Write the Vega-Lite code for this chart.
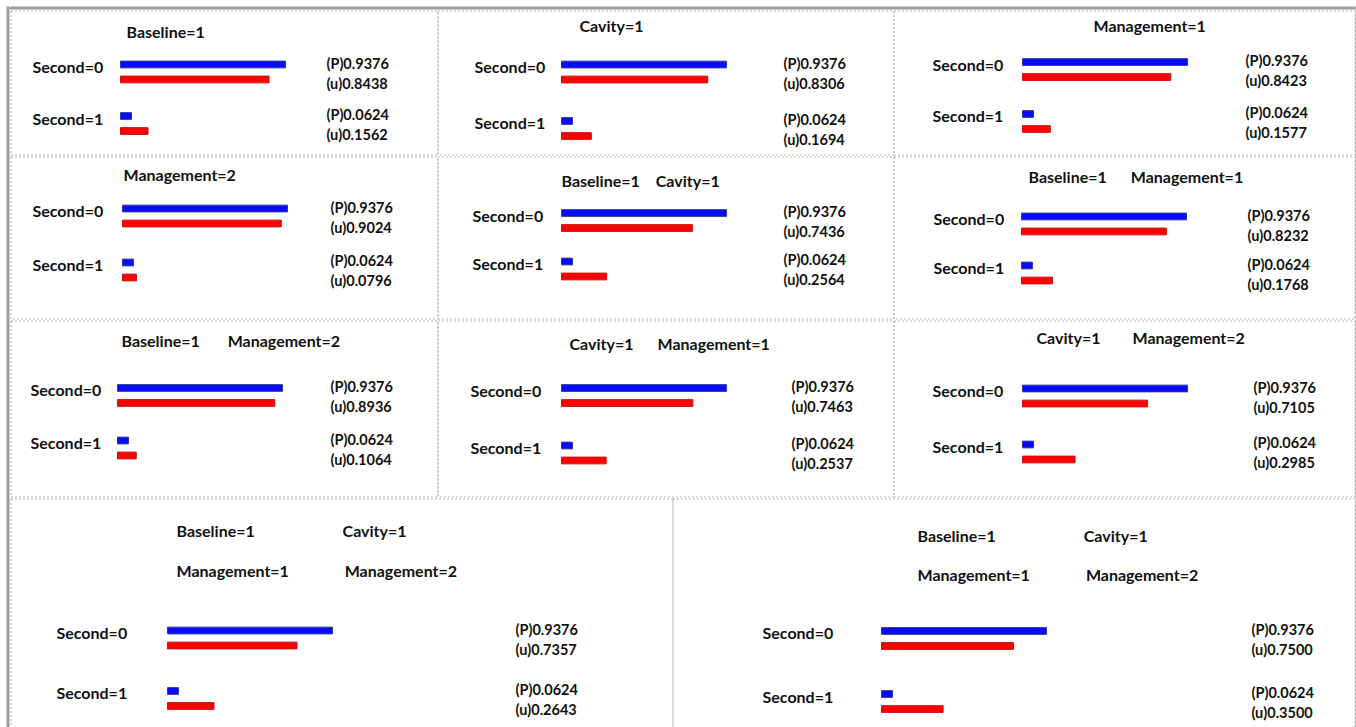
{
"$schema": "https://vega.github.io/schema/vega-lite/v6.json",
"background": "white",
"padding": {"left": 6.5, "top": 6.5, "right": 0, "bottom": 0},
"spacing": 0,
"config": {
  "view": {"stroke": "#b5b5b5", "strokeDash": [2, 2], "strokeWidth": 1},
  "font": "Lato",
  "title": {"font": "Lato", "fontSize": 16, "fontWeight": "bold", "color": "#111111", "anchor": "start", "frame": "group", "baseline": "middle"},
  "text": {"font": "Lato", "fontWeight": "bold", "color": "#111111", "align": "left", "baseline": "middle"}
},
"hconcat": [
  {"width": 1, "height": 740, "view": {"stroke": "#9c9c9c", "strokeWidth": 2, "strokeDash": [10, 0]}, "data": {"values": []}, "mark": {"type": "rule", "opacity": 0}, "encoding": {}},
  {"vconcat": [
    {"width": 1344, "height": 1, "view": {"stroke": "#9c9c9c", "strokeWidth": 2, "strokeDash": [10, 0]}, "data": {"values": []}, "mark": {"type": "rule", "opacity": 0}, "encoding": {}},
    {"hconcat": [
      {"width": 427, "height": 144,
       "title": {"text": "Baseline=1", "dx": 116, "offset": -30},
       "data": {"values": [
         {"second": "0", "measure": "P", "value": 0.9376, "txt": "(P)0.9376", "slabel": "Second=0"},
         {"second": "0", "measure": "u", "value": 0.8438, "txt": "(u)0.8438", "slabel": "Second=0"},
         {"second": "1", "measure": "P", "value": 0.0624, "txt": "(P)0.0624", "slabel": "Second=1"},
         {"second": "1", "measure": "u", "value": 0.1562, "txt": "(u)0.1562", "slabel": "Second=1"}]},
       "resolve": {"scale": {"yOffset": "independent"}},
       "encoding": {"y": {"field": "second", "type": "nominal", "axis": null, "scale": {"domain": ["0", "1"], "range": [46.5, 128], "paddingInner": 0.4175, "paddingOuter": 0}}},
       "layer": [
         {"mark": {"type": "bar", "strokeWidth": 1},
          "encoding": {
            "x": {"field": "value", "type": "quantitative", "axis": null, "scale": {"domain": [-0.625, 1.801], "nice": false, "zero": false}},
            "yOffset": {"field": "measure", "type": "nominal", "scale": {"domain": ["P", "u"], "paddingInner": 0.55, "paddingOuter": 0.275}},
            "color": {"field": "measure", "type": "nominal", "legend": null, "scale": {"domain": ["P", "u"], "range": ["#0a0aff", "#ff0000"]}},
            "stroke": {"field": "measure", "type": "nominal", "legend": null, "scale": {"domain": ["P", "u"], "range": ["#2a3a9e", "#cc1010"]}}}},
         {"mark": {"type": "text", "fontSize": 14.5},
          "encoding": {
            "x": {"datum": 1.170, "type": "quantitative", "scale": {"domain": [-0.625, 1.801], "nice": false, "zero": false}},
            "yOffset": {"field": "measure", "type": "nominal", "scale": {"domain": ["P", "u"], "range": [7.5, 27.5], "paddingOuter": 0}},
            "text": {"field": "txt"}}},
         {"transform": [{"filter": "datum.measure === 'P'"}],
          "mark": {"type": "text", "fontSize": 16, "dy": -4},
          "encoding": {
            "x": {"datum": -0.5, "type": "quantitative", "scale": {"domain": [-0.625, 1.801], "nice": false, "zero": false}},
            "text": {"field": "slabel"}}}]},
      {"width": 456, "height": 144,
       "title": {"text": "Cavity=1", "dx": 142, "offset": -24},
       "data": {"values": [
         {"second": "0", "measure": "P", "value": 0.9376, "txt": "(P)0.9376", "slabel": "Second=0"},
         {"second": "0", "measure": "u", "value": 0.8306, "txt": "(u)0.8306", "slabel": "Second=0"},
         {"second": "1", "measure": "P", "value": 0.0624, "txt": "(P)0.0624", "slabel": "Second=1"},
         {"second": "1", "measure": "u", "value": 0.1694, "txt": "(u)0.1694", "slabel": "Second=1"}]},
       "resolve": {"scale": {"yOffset": "independent"}},
       "encoding": {"y": {"field": "second", "type": "nominal", "axis": null, "scale": {"domain": ["0", "1"], "range": [46.5, 133], "paddingInner": 0.469, "paddingOuter": 0}}},
       "layer": [
         {"mark": {"type": "bar", "strokeWidth": 1},
          "encoding": {
            "x": {"field": "value", "type": "quantitative", "axis": null, "scale": {"domain": [-0.7045, 1.886], "nice": false, "zero": false}},
            "yOffset": {"field": "measure", "type": "nominal", "scale": {"domain": ["P", "u"], "paddingInner": 0.55, "paddingOuter": 0.275}},
            "color": {"field": "measure", "type": "nominal", "legend": null, "scale": {"domain": ["P", "u"], "range": ["#0a0aff", "#ff0000"]}},
            "stroke": {"field": "measure", "type": "nominal", "legend": null, "scale": {"domain": ["P", "u"], "range": ["#2a3a9e", "#cc1010"]}}}},
         {"mark": {"type": "text", "fontSize": 14.5},
          "encoding": {
            "x": {"datum": 1.261, "type": "quantitative", "scale": {"domain": [-0.7045, 1.886], "nice": false, "zero": false}},
            "yOffset": {"field": "measure", "type": "nominal", "scale": {"domain": ["P", "u"], "range": [7.5, 27.5], "paddingOuter": 0}},
            "text": {"field": "txt"}}},
         {"transform": [{"filter": "datum.measure === 'P'"}],
          "mark": {"type": "text", "fontSize": 16, "dy": -4},
          "encoding": {
            "x": {"datum": -0.494, "type": "quantitative", "scale": {"domain": [-0.7045, 1.886], "nice": false, "zero": false}},
            "text": {"field": "slabel"}}}]},
      {"width": 461, "height": 144,
       "title": {"text": "Management=1", "dx": 200, "offset": -24},
       "data": {"values": [
         {"second": "0", "measure": "P", "value": 0.9376, "txt": "(P)0.9376", "slabel": "Second=0"},
         {"second": "0", "measure": "u", "value": 0.8423, "txt": "(u)0.8423", "slabel": "Second=0"},
         {"second": "1", "measure": "P", "value": 0.0624, "txt": "(P)0.0624", "slabel": "Second=1"},
         {"second": "1", "measure": "u", "value": 0.1577, "txt": "(u)0.1577", "slabel": "Second=1"}]},
       "resolve": {"scale": {"yOffset": "independent"}},
       "encoding": {"y": {"field": "second", "type": "nominal", "axis": null, "scale": {"domain": ["0", "1"], "range": [44, 126], "paddingInner": 0.423, "paddingOuter": 0}}},
       "layer": [
         {"mark": {"type": "bar", "strokeWidth": 1},
          "encoding": {
            "x": {"field": "value", "type": "quantitative", "axis": null, "scale": {"domain": [-0.733, 1.886], "nice": false, "zero": false}},
            "yOffset": {"field": "measure", "type": "nominal", "scale": {"domain": ["P", "u"], "paddingInner": 0.55, "paddingOuter": 0.275}},
            "color": {"field": "measure", "type": "nominal", "legend": null, "scale": {"domain": ["P", "u"], "range": ["#0a0aff", "#ff0000"]}},
            "stroke": {"field": "measure", "type": "nominal", "legend": null, "scale": {"domain": ["P", "u"], "range": ["#2a3a9e", "#cc1010"]}}}},
         {"mark": {"type": "text", "fontSize": 14.5},
          "encoding": {
            "x": {"datum": 1.267, "type": "quantitative", "scale": {"domain": [-0.733, 1.886], "nice": false, "zero": false}},
            "yOffset": {"field": "measure", "type": "nominal", "scale": {"domain": ["P", "u"], "range": [7.5, 27.5], "paddingOuter": 0}},
            "text": {"field": "txt"}}},
         {"transform": [{"filter": "datum.measure === 'P'"}],
          "mark": {"type": "text", "fontSize": 16, "dy": -4},
          "encoding": {
            "x": {"datum": -0.511, "type": "quantitative", "scale": {"domain": [-0.733, 1.886], "nice": false, "zero": false}},
            "text": {"field": "slabel"}}}]}
    ], "spacing": 0, "bounds": "flush"},
    {"hconcat": [
      {"width": 427, "height": 162,
       "title": {"text": "Management=2", "dx": 113, "offset": -27},
       "data": {"values": [
         {"second": "0", "measure": "P", "value": 0.9376, "txt": "(P)0.9376", "slabel": "Second=0"},
         {"second": "0", "measure": "u", "value": 0.9024, "txt": "(u)0.9024", "slabel": "Second=0"},
         {"second": "1", "measure": "P", "value": 0.0624, "txt": "(P)0.0624", "slabel": "Second=1"},
         {"second": "1", "measure": "u", "value": 0.0796, "txt": "(u)0.0796", "slabel": "Second=1"}]},
       "resolve": {"scale": {"yOffset": "independent"}},
       "encoding": {"y": {"field": "second", "type": "nominal", "axis": null, "scale": {"domain": ["0", "1"], "range": [44.5, 128.5], "paddingInner": 0.444, "paddingOuter": 0}}},
       "layer": [
         {"mark": {"type": "bar", "strokeWidth": 1},
          "encoding": {
            "x": {"field": "value", "type": "quantitative", "axis": null, "scale": {"domain": [-0.636, 1.790], "nice": false, "zero": false}},
            "yOffset": {"field": "measure", "type": "nominal", "scale": {"domain": ["P", "u"], "paddingInner": 0.55, "paddingOuter": 0.275}},
            "color": {"field": "measure", "type": "nominal", "legend": null, "scale": {"domain": ["P", "u"], "range": ["#0a0aff", "#ff0000"]}},
            "stroke": {"field": "measure", "type": "nominal", "legend": null, "scale": {"domain": ["P", "u"], "range": ["#2a3a9e", "#cc1010"]}}}},
         {"mark": {"type": "text", "fontSize": 14.5},
          "encoding": {
            "x": {"datum": 1.182, "type": "quantitative", "scale": {"domain": [-0.636, 1.790], "nice": false, "zero": false}},
            "yOffset": {"field": "measure", "type": "nominal", "scale": {"domain": ["P", "u"], "range": [7.5, 27.5], "paddingOuter": 0}},
            "text": {"field": "txt"}}},
         {"transform": [{"filter": "datum.measure === 'P'"}],
          "mark": {"type": "text", "fontSize": 16, "dy": -4},
          "encoding": {
            "x": {"datum": -0.511, "type": "quantitative", "scale": {"domain": [-0.636, 1.790], "nice": false, "zero": false}},
            "text": {"field": "slabel"}}}]},
      {"width": 456, "height": 162,
       "title": {"text": "Baseline=1\u2002\u2002Cavity=1", "dx": 124, "offset": -33},
       "data": {"values": [
         {"second": "0", "measure": "P", "value": 0.9376, "txt": "(P)0.9376", "slabel": "Second=0"},
         {"second": "0", "measure": "u", "value": 0.7436, "txt": "(u)0.7436", "slabel": "Second=0"},
         {"second": "1", "measure": "P", "value": 0.0624, "txt": "(P)0.0624", "slabel": "Second=1"},
         {"second": "1", "measure": "u", "value": 0.2564, "txt": "(u)0.2564", "slabel": "Second=1"}]},
       "resolve": {"scale": {"yOffset": "independent"}},
       "encoding": {"y": {"field": "second", "type": "nominal", "axis": null, "scale": {"domain": ["0", "1"], "range": [49, 127.5], "paddingInner": 0.381, "paddingOuter": 0}}},
       "layer": [
         {"mark": {"type": "bar", "strokeWidth": 1},
          "encoding": {
            "x": {"field": "value", "type": "quantitative", "axis": null, "scale": {"domain": [-0.7045, 1.886], "nice": false, "zero": false}},
            "yOffset": {"field": "measure", "type": "nominal", "scale": {"domain": ["P", "u"], "paddingInner": 0.55, "paddingOuter": 0.275}},
            "color": {"field": "measure", "type": "nominal", "legend": null, "scale": {"domain": ["P", "u"], "range": ["#0a0aff", "#ff0000"]}},
            "stroke": {"field": "measure", "type": "nominal", "legend": null, "scale": {"domain": ["P", "u"], "range": ["#2a3a9e", "#cc1010"]}}}},
         {"mark": {"type": "text", "fontSize": 14.5},
          "encoding": {
            "x": {"datum": 1.261, "type": "quantitative", "scale": {"domain": [-0.7045, 1.886], "nice": false, "zero": false}},
            "yOffset": {"field": "measure", "type": "nominal", "scale": {"domain": ["P", "u"], "range": [7.5, 27.5], "paddingOuter": 0}},
            "text": {"field": "txt"}}},
         {"transform": [{"filter": "datum.measure === 'P'"}],
          "mark": {"type": "text", "fontSize": 16, "dy": -4},
          "encoding": {
            "x": {"datum": -0.506, "type": "quantitative", "scale": {"domain": [-0.7045, 1.886], "nice": false, "zero": false}},
            "text": {"field": "slabel"}}}]},
      {"width": 461, "height": 162,
       "title": {"text": "Baseline=1\u2002\u2002\u2002Management=1", "dx": 135, "offset": -29},
       "data": {"values": [
         {"second": "0", "measure": "P", "value": 0.9376, "txt": "(P)0.9376", "slabel": "Second=0"},
         {"second": "0", "measure": "u", "value": 0.8232, "txt": "(u)0.8232", "slabel": "Second=0"},
         {"second": "1", "measure": "P", "value": 0.0624, "txt": "(P)0.0624", "slabel": "Second=1"},
         {"second": "1", "measure": "u", "value": 0.1768, "txt": "(u)0.1768", "slabel": "Second=1"}]},
       "resolve": {"scale": {"yOffset": "independent"}},
       "encoding": {"y": {"field": "second", "type": "nominal", "axis": null, "scale": {"domain": ["0", "1"], "range": [52.5, 131.5], "paddingInner": 0.388, "paddingOuter": 0}}},
       "layer": [
         {"mark": {"type": "bar", "strokeWidth": 1},
          "encoding": {
            "x": {"field": "value", "type": "quantitative", "axis": null, "scale": {"domain": [-0.727, 1.892], "nice": false, "zero": false}},
            "yOffset": {"field": "measure", "type": "nominal", "scale": {"domain": ["P", "u"], "paddingInner": 0.55, "paddingOuter": 0.275}},
            "color": {"field": "measure", "type": "nominal", "legend": null, "scale": {"domain": ["P", "u"], "range": ["#0a0aff", "#ff0000"]}},
            "stroke": {"field": "measure", "type": "nominal", "legend": null, "scale": {"domain": ["P", "u"], "range": ["#2a3a9e", "#cc1010"]}}}},
         {"mark": {"type": "text", "fontSize": 14.5},
          "encoding": {
            "x": {"datum": 1.284, "type": "quantitative", "scale": {"domain": [-0.727, 1.892], "nice": false, "zero": false}},
            "yOffset": {"field": "measure", "type": "nominal", "scale": {"domain": ["P", "u"], "range": [7.5, 27.5], "paddingOuter": 0}},
            "text": {"field": "txt"}}},
         {"transform": [{"filter": "datum.measure === 'P'"}],
          "mark": {"type": "text", "fontSize": 16, "dy": -4},
          "encoding": {
            "x": {"datum": -0.5, "type": "quantitative", "scale": {"domain": [-0.727, 1.892], "nice": false, "zero": false}},
            "text": {"field": "slabel"}}}]}
    ], "spacing": 0, "bounds": "flush"},
    {"hconcat": [
      {"width": 427, "height": 176,
       "title": {"text": "Baseline=1\u2002\u2002\u2002\u00a0Management=2", "dx": 111, "offset": -29},
       "data": {"values": [
         {"second": "0", "measure": "P", "value": 0.9376, "txt": "(P)0.9376", "slabel": "Second=0"},
         {"second": "0", "measure": "u", "value": 0.8936, "txt": "(u)0.8936", "slabel": "Second=0"},
         {"second": "1", "measure": "P", "value": 0.0624, "txt": "(P)0.0624", "slabel": "Second=1"},
         {"second": "1", "measure": "u", "value": 0.1064, "txt": "(u)0.1064", "slabel": "Second=1"}]},
       "resolve": {"scale": {"yOffset": "independent"}},
       "encoding": {"y": {"field": "second", "type": "nominal", "axis": null, "scale": {"domain": ["0", "1"], "range": [60, 142.5], "paddingInner": 0.429, "paddingOuter": 0}}},
       "layer": [
         {"mark": {"type": "bar", "strokeWidth": 1},
          "encoding": {
            "x": {"field": "value", "type": "quantitative", "axis": null, "scale": {"domain": [-0.608, 1.818], "nice": false, "zero": false}},
            "yOffset": {"field": "measure", "type": "nominal", "scale": {"domain": ["P", "u"], "paddingInner": 0.55, "paddingOuter": 0.275}},
            "color": {"field": "measure", "type": "nominal", "legend": null, "scale": {"domain": ["P", "u"], "range": ["#0a0aff", "#ff0000"]}},
            "stroke": {"field": "measure", "type": "nominal", "legend": null, "scale": {"domain": ["P", "u"], "range": ["#2a3a9e", "#cc1010"]}}}},
         {"mark": {"type": "text", "fontSize": 14.5},
          "encoding": {
            "x": {"datum": 1.210, "type": "quantitative", "scale": {"domain": [-0.608, 1.818], "nice": false, "zero": false}},
            "yOffset": {"field": "measure", "type": "nominal", "scale": {"domain": ["P", "u"], "range": [7.5, 27.5], "paddingOuter": 0}},
            "text": {"field": "txt"}}},
         {"transform": [{"filter": "datum.measure === 'P'"}],
          "mark": {"type": "text", "fontSize": 16, "dy": -4},
          "encoding": {
            "x": {"datum": -0.494, "type": "quantitative", "scale": {"domain": [-0.608, 1.818], "nice": false, "zero": false}},
            "text": {"field": "slabel"}}}]},
      {"width": 456, "height": 176,
       "title": {"text": "Cavity=1\u2002\u2002\u2002Management=1", "dx": 132, "offset": -32},
       "data": {"values": [
         {"second": "0", "measure": "P", "value": 0.9376, "txt": "(P)0.9376", "slabel": "Second=0"},
         {"second": "0", "measure": "u", "value": 0.7463, "txt": "(u)0.7463", "slabel": "Second=0"},
         {"second": "1", "measure": "P", "value": 0.0624, "txt": "(P)0.0624", "slabel": "Second=1"},
         {"second": "1", "measure": "u", "value": 0.2537, "txt": "(u)0.2537", "slabel": "Second=1"}]},
       "resolve": {"scale": {"yOffset": "independent"}},
       "encoding": {"y": {"field": "second", "type": "nominal", "axis": null, "scale": {"domain": ["0", "1"], "range": [60, 147.5], "paddingInner": 0.478, "paddingOuter": 0}}},
       "layer": [
         {"mark": {"type": "bar", "strokeWidth": 1},
          "encoding": {
            "x": {"field": "value", "type": "quantitative", "axis": null, "scale": {"domain": [-0.7045, 1.886], "nice": false, "zero": false}},
            "yOffset": {"field": "measure", "type": "nominal", "scale": {"domain": ["P", "u"], "paddingInner": 0.55, "paddingOuter": 0.275}},
            "color": {"field": "measure", "type": "nominal", "legend": null, "scale": {"domain": ["P", "u"], "range": ["#0a0aff", "#ff0000"]}},
            "stroke": {"field": "measure", "type": "nominal", "legend": null, "scale": {"domain": ["P", "u"], "range": ["#2a3a9e", "#cc1010"]}}}},
         {"mark": {"type": "text", "fontSize": 14.5},
          "encoding": {
            "x": {"datum": 1.307, "type": "quantitative", "scale": {"domain": [-0.7045, 1.886], "nice": false, "zero": false}},
            "yOffset": {"field": "measure", "type": "nominal", "scale": {"domain": ["P", "u"], "range": [7.5, 27.5], "paddingOuter": 0}},
            "text": {"field": "txt"}}},
         {"transform": [{"filter": "datum.measure === 'P'"}],
          "mark": {"type": "text", "fontSize": 16, "dy": -4},
          "encoding": {
            "x": {"datum": -0.517, "type": "quantitative", "scale": {"domain": [-0.7045, 1.886], "nice": false, "zero": false}},
            "text": {"field": "slabel"}}}]},
      {"width": 461, "height": 176,
       "title": {"text": "Cavity=1\u2002\u2002\u2002\u2002Management=2", "dx": 143, "offset": -26},
       "data": {"values": [
         {"second": "0", "measure": "P", "value": 0.9376, "txt": "(P)0.9376", "slabel": "Second=0"},
         {"second": "0", "measure": "u", "value": 0.7105, "txt": "(u)0.7105", "slabel": "Second=0"},
         {"second": "1", "measure": "P", "value": 0.0624, "txt": "(P)0.0624", "slabel": "Second=1"},
         {"second": "1", "measure": "u", "value": 0.2985, "txt": "(u)0.2985", "slabel": "Second=1"}]},
       "resolve": {"scale": {"yOffset": "independent"}},
       "encoding": {"y": {"field": "second", "type": "nominal", "axis": null, "scale": {"domain": ["0", "1"], "range": [60.5, 146.5], "paddingInner": 0.464, "paddingOuter": 0}}},
       "layer": [
         {"mark": {"type": "bar", "strokeWidth": 1},
          "encoding": {
            "x": {"field": "value", "type": "quantitative", "axis": null, "scale": {"domain": [-0.733, 1.886], "nice": false, "zero": false}},
            "yOffset": {"field": "measure", "type": "nominal", "scale": {"domain": ["P", "u"], "paddingInner": 0.55, "paddingOuter": 0.275}},
            "color": {"field": "measure", "type": "nominal", "legend": null, "scale": {"domain": ["P", "u"], "range": ["#0a0aff", "#ff0000"]}},
            "stroke": {"field": "measure", "type": "nominal", "legend": null, "scale": {"domain": ["P", "u"], "range": ["#2a3a9e", "#cc1010"]}}}},
         {"mark": {"type": "text", "fontSize": 14.5},
          "encoding": {
            "x": {"datum": 1.3125, "type": "quantitative", "scale": {"domain": [-0.733, 1.886], "nice": false, "zero": false}},
            "yOffset": {"field": "measure", "type": "nominal", "scale": {"domain": ["P", "u"], "range": [7.5, 27.5], "paddingOuter": 0}},
            "text": {"field": "txt"}}},
         {"transform": [{"filter": "datum.measure === 'P'"}],
          "mark": {"type": "text", "fontSize": 16, "dy": -4},
          "encoding": {
            "x": {"datum": -0.511, "type": "quantitative", "scale": {"domain": [-0.733, 1.886], "nice": false, "zero": false}},
            "text": {"field": "slabel"}}}]}
    ], "spacing": 0, "bounds": "flush"},
    {"hconcat": [
      {"width": 662, "height": 235,
       "title": {"text": ["Baseline=1\u2002\u2002\u2002\u2002\u2002\u2002\u2002\u2002\u2002\u2002\u00a0\u00a0Cavity=1", "Management=1\u2002\u2002\u2002\u2002\u2002\u2002\u00a0\u00a0Management=2"], "dx": 166, "offset": -81, "lineHeight": 40},
       "data": {"values": [
         {"second": "0", "measure": "P", "value": 0.9376, "txt": "(P)0.9376", "slabel": "Second=0"},
         {"second": "0", "measure": "u", "value": 0.7357, "txt": "(u)0.7357", "slabel": "Second=0"},
         {"second": "1", "measure": "P", "value": 0.0624, "txt": "(P)0.0624", "slabel": "Second=1"},
         {"second": "1", "measure": "u", "value": 0.2643, "txt": "(u)0.2643", "slabel": "Second=1"}]},
       "resolve": {"scale": {"yOffset": "independent"}},
       "encoding": {"y": {"field": "second", "type": "nominal", "axis": null, "scale": {"domain": ["0", "1"], "range": [124.5, 215], "paddingInner": 0.504, "paddingOuter": 0}}},
       "layer": [
         {"mark": {"type": "bar", "strokeWidth": 1},
          "encoding": {
            "x": {"field": "value", "type": "quantitative", "axis": null, "scale": {"domain": [-0.892, 2.869], "nice": false, "zero": false}},
            "yOffset": {"field": "measure", "type": "nominal", "scale": {"domain": ["P", "u"], "paddingInner": 0.55, "paddingOuter": 0.275}},
            "color": {"field": "measure", "type": "nominal", "legend": null, "scale": {"domain": ["P", "u"], "range": ["#0a0aff", "#ff0000"]}},
            "stroke": {"field": "measure", "type": "nominal", "legend": null, "scale": {"domain": ["P", "u"], "range": ["#2a3a9e", "#cc1010"]}}}},
         {"mark": {"type": "text", "fontSize": 14.5},
          "encoding": {
            "x": {"datum": 1.977, "type": "quantitative", "scale": {"domain": [-0.892, 2.869], "nice": false, "zero": false}},
            "yOffset": {"field": "measure", "type": "nominal", "scale": {"domain": ["P", "u"], "range": [7.5, 27.5], "paddingOuter": 0}},
            "text": {"field": "txt"}}},
         {"transform": [{"filter": "datum.measure === 'P'"}],
          "mark": {"type": "text", "fontSize": 16, "dy": -4},
          "encoding": {
            "x": {"datum": -0.631, "type": "quantitative", "scale": {"domain": [-0.892, 2.869], "nice": false, "zero": false}},
            "text": {"field": "slabel"}}}]},
      {"width": 682, "height": 235,
       "title": {"text": ["Baseline=1\u2002\u2002\u2002\u2002\u2002\u2002\u2002\u2002\u2002\u2002\u2002Cavity=1", "Management=1\u2002\u2002\u2002\u2002\u2002\u2002\u2002Management=2"], "dx": 245, "offset": -85, "lineHeight": 39},
       "data": {"values": [
         {"second": "0", "measure": "P", "value": 0.9376, "txt": "(P)0.9376", "slabel": "Second=0"},
         {"second": "0", "measure": "u", "value": 0.75, "txt": "(u)0.7500", "slabel": "Second=0"},
         {"second": "1", "measure": "P", "value": 0.0624, "txt": "(P)0.0624", "slabel": "Second=1"},
         {"second": "1", "measure": "u", "value": 0.35, "txt": "(u)0.3500", "slabel": "Second=1"}]},
       "resolve": {"scale": {"yOffset": "independent"}},
       "encoding": {"y": {"field": "second", "type": "nominal", "axis": null, "scale": {"domain": ["0", "1"], "range": [125, 218], "paddingInner": 0.524, "paddingOuter": 0}}},
       "layer": [
         {"mark": {"type": "bar", "strokeWidth": 1},
          "encoding": {
            "x": {"field": "value", "type": "quantitative", "axis": null, "scale": {"domain": [-1.1875, 2.6875], "nice": false, "zero": false}},
            "yOffset": {"field": "measure", "type": "nominal", "scale": {"domain": ["P", "u"], "paddingInner": 0.55, "paddingOuter": 0.275}},
            "color": {"field": "measure", "type": "nominal", "legend": null, "scale": {"domain": ["P", "u"], "range": ["#0a0aff", "#ff0000"]}},
            "stroke": {"field": "measure", "type": "nominal", "legend": null, "scale": {"domain": ["P", "u"], "range": ["#2a3a9e", "#cc1010"]}}}},
         {"mark": {"type": "text", "fontSize": 14.5},
          "encoding": {
            "x": {"datum": 2.102, "type": "quantitative", "scale": {"domain": [-1.1875, 2.6875], "nice": false, "zero": false}},
            "yOffset": {"field": "measure", "type": "nominal", "scale": {"domain": ["P", "u"], "range": [7.5, 27.5], "paddingOuter": 0}},
            "text": {"field": "txt"}}},
         {"transform": [{"filter": "datum.measure === 'P'"}],
          "mark": {"type": "text", "fontSize": 16, "dy": -4},
          "encoding": {
            "x": {"datum": -0.676, "type": "quantitative", "scale": {"domain": [-1.1875, 2.6875], "nice": false, "zero": false}},
            "text": {"field": "slabel"}}}]}
    ], "spacing": 0, "bounds": "flush"}
  ], "spacing": 0},
  {"width": 1, "height": 740, "view": {"stroke": "#9c9c9c", "strokeWidth": 2, "strokeDash": [10, 0]}, "data": {"values": []}, "mark": {"type": "rule", "opacity": 0}, "encoding": {}}
]
}
